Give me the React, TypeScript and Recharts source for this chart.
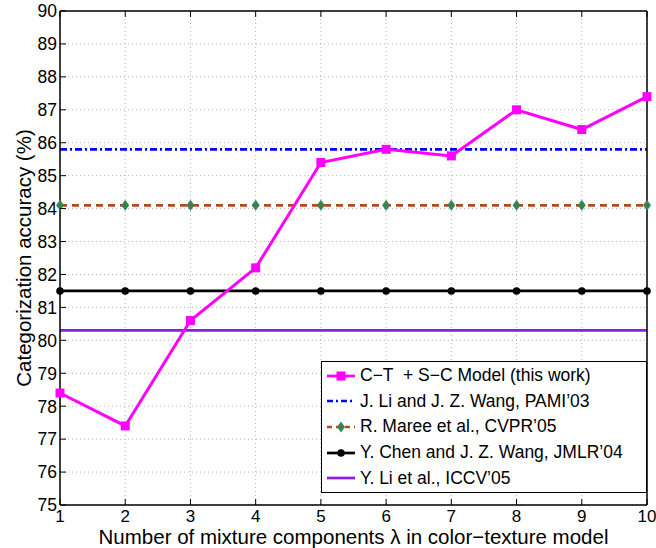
import { CartesianGrid, Legend, Line, LineChart, XAxis, YAxis } from "recharts";

// x: number of mixture components (lambda)
const lambdas = [1, 2, 3, 4, 5, 6, 7, 8, 9, 10];

// series values (categorization accuracy, %)
const ctScModel = [78.4, 77.4, 80.6, 82.2, 85.4, 85.8, 85.6, 87.0, 86.4, 87.4];
const liWangPami = [85.8, 85.8, 85.8, 85.8, 85.8, 85.8, 85.8, 85.8, 85.8, 85.8];
const mareeCvpr = [84.1, 84.1, 84.1, 84.1, 84.1, 84.1, 84.1, 84.1, 84.1, 84.1];
const chenWangJmlr = [81.5, 81.5, 81.5, 81.5, 81.5, 81.5, 81.5, 81.5, 81.5, 81.5];
const liIccv = [80.3, 80.3, 80.3, 80.3, 80.3, 80.3, 80.3, 80.3, 80.3, 80.3];

const yTicks = [75, 76, 77, 78, 79, 80, 81, 82, 83, 84, 85, 86, 87, 88, 89, 90];

const FONT = '"Liberation Sans", Arial, Helvetica, sans-serif';
const TICK = 6;

const data = lambdas.map((l, i) => ({
  lambda: l,
  ct: ctScModel[i],
  pami: liWangPami[i],
  maree: mareeCvpr[i],
  chen: chenWangJmlr[i],
  iccv: liIccv[i],
}));

type Marker = "square" | "diamond" | "circle" | "none";

const series: {
  key: string;
  name: string;
  color: string;
  dash?: string;
  legendDash?: string;
  marker: Marker;
}[] = [
  { key: "ct", name: "C\u2212T  + S\u2212C Model (this work)", color: "#ff00ff", marker: "square" },
  { key: "pami", name: "J. Li and J. Z. Wang, PAMI\u201903", color: "#0000ff", dash: "7 3 2 3", legendDash: "6 3 2 3", marker: "none" },
  { key: "maree", name: "R. Maree et al., CVPR\u201905", color: "#b5481c", dash: "7 5", legendDash: "5 4", marker: "diamond" },
  { key: "chen", name: "Y. Chen and J. Z. Wang, JMLR\u201904", color: "#000000", marker: "circle" },
  { key: "iccv", name: "Y. Li et al., ICCV\u201905", color: "#8a1ee8", marker: "none" },
];

function MarkerShape({ type, cx, cy }: { type: Marker; cx: number; cy: number }) {
  if (type === "square")
    return <rect x={cx - 4.5} y={cy - 4.5} width={9} height={9} fill="#ff00ff" />;
  if (type === "diamond")
    return (
      <g>
        <polygon
          points={`${cx},${cy - 5.5} ${cx + 4},${cy} ${cx},${cy + 5.5} ${cx - 4},${cy}`}
          fill="#2e8b57"
        />
        <circle cx={cx} cy={cy} r={1} fill="#c0392b" />
      </g>
    );
  if (type === "circle") return <circle cx={cx} cy={cy} r={3.8} fill="#000" />;
  return null;
}

function dotFor(type: Marker) {
  if (type === "none") return false;
  return (p: any) => <MarkerShape key={p.index} type={type} cx={p.cx} cy={p.cy} />;
}

function BottomTick(props: any) {
  const { x, y, payload } = props;
  return (
    <g>
      <line x1={x} x2={x} y1={y - 5} y2={y - 5 - TICK} stroke="#000" strokeWidth={1} />
      <text x={x} y={y} dy="0.7em" textAnchor="middle" fontFamily={FONT} fontSize={17} fill="#000">
        {payload.value}
      </text>
    </g>
  );
}

function TopTick(props: any) {
  const { x, y } = props;
  return <line x1={x} x2={x} y1={y} y2={y + TICK} stroke="#000" strokeWidth={1} />;
}

function LeftTick(props: any) {
  const { x, y, payload } = props;
  return (
    <g>
      <line x1={x + 3} x2={x + 3 + TICK} y1={y} y2={y} stroke="#000" strokeWidth={1} />
      <text x={x} y={y} dy="0.36em" textAnchor="end" fontFamily={FONT} fontSize={17.5} fill="#000">
        {payload.value}
      </text>
    </g>
  );
}

function RightTick(props: any) {
  const { x, y } = props;
  return <line x1={x} x2={x - TICK} y1={y} y2={y} stroke="#000" strokeWidth={1} />;
}

function YTitle(props: any) {
  const vb = props.viewBox;
  const cx = vb.x + 31;
  const cy = vb.y + vb.height / 2;
  return (
    <text
      x={cx}
      y={cy}
      transform={`rotate(-90 ${cx} ${cy})`}
      textAnchor="middle"
      fontFamily={FONT}
      fontSize={20.5}
      fill="#000"
    >
      Categorization accuracy (%)
    </text>
  );
}

function XTitle(props: any) {
  const vb = props.viewBox;
  return (
    <text
      x={vb.x + vb.width / 2}
      y={vb.y + 39}
      textAnchor="middle"
      fontFamily={FONT}
      fontSize={20.5}
      fill="#000"
    >
      Number of mixture components λ in color{"\u2212"}texture model
    </text>
  );
}

function LegendBox() {
  return (
    <div
      style={{
        width: 326,
        height: 132,
        boxSizing: "border-box",
        border: "1.5px solid #000",
        background: "#fff",
        paddingTop: 1,
        fontFamily: FONT,
        fontSize: 17.5,
        color: "#000",
      }}
    >
      {series.map((s) => (
        <div key={s.key} style={{ display: "flex", alignItems: "center", height: 25.6 }}>
          <svg width={38} height={20} style={{ flex: "none" }}>
            <line
              x1={5}
              x2={33}
              y1={10}
              y2={10}
              stroke={s.color}
              strokeWidth={2.7}
              strokeDasharray={s.legendDash}
            />
            <MarkerShape type={s.marker} cx={19} cy={10} />
          </svg>
          <span style={{ whiteSpace: "pre" }}>{s.name}</span>
        </div>
      ))}
    </div>
  );
}

export default function App() {
  return (
    <div style={{ position: "absolute", left: 0, top: 0, background: "#fff" }}>
      <LineChart width={656} height={548} data={data} margin={{ top: 10, right: 8, bottom: 0, left: 0 }}>
        <CartesianGrid stroke="#b4b4b4" strokeDasharray="1 3" strokeWidth={1} />
        <XAxis
          dataKey="lambda"
          type="number"
          domain={[1, 10]}
          ticks={lambdas}
          interval={0}
          height={43}
          tickSize={0}
          tickMargin={5}
          tickLine={false}
          tick={<BottomTick />}
          axisLine={{ stroke: "#000", strokeWidth: 1.5 }}
          label={<XTitle />}
        />
        <XAxis
          xAxisId="t"
          orientation="top"
          dataKey="lambda"
          type="number"
          domain={[1, 10]}
          ticks={lambdas}
          interval={0}
          height={1}
          tickSize={0}
          tickMargin={0}
          tickLine={false}
          tick={<TopTick />}
          axisLine={{ stroke: "#000", strokeWidth: 1.5 }}
        />
        <YAxis
          type="number"
          domain={[75, 90]}
          ticks={yTicks}
          interval={0}
          width={60}
          tickSize={0}
          tickMargin={3}
          tickLine={false}
          tick={<LeftTick />}
          axisLine={{ stroke: "#000", strokeWidth: 1.5 }}
          label={<YTitle />}
        />
        <YAxis
          yAxisId="r"
          orientation="right"
          type="number"
          domain={[75, 90]}
          ticks={yTicks}
          interval={0}
          width={1}
          tickSize={0}
          tickMargin={0}
          tickLine={false}
          tick={<RightTick />}
          axisLine={{ stroke: "#000", strokeWidth: 1.5 }}
        />
        <Legend
          layout="vertical"
          align="center"
          verticalAlign="middle"
          content={<LegendBox />}
          wrapperStyle={{ left: 321, top: 361, width: 326, height: 132 }}
        />
        {series
          .slice()
          .reverse()
          .map((s) => (
            <Line
              key={s.key}
              dataKey={s.key}
              name={s.name}
              stroke={s.color}
              strokeWidth={s.key === "ct" ? 3 : 2.8}
              strokeDasharray={s.dash}
              dot={dotFor(s.marker)}
              activeDot={false}
              isAnimationActive={false}
            />
          ))}
      </LineChart>
    </div>
  );
}
